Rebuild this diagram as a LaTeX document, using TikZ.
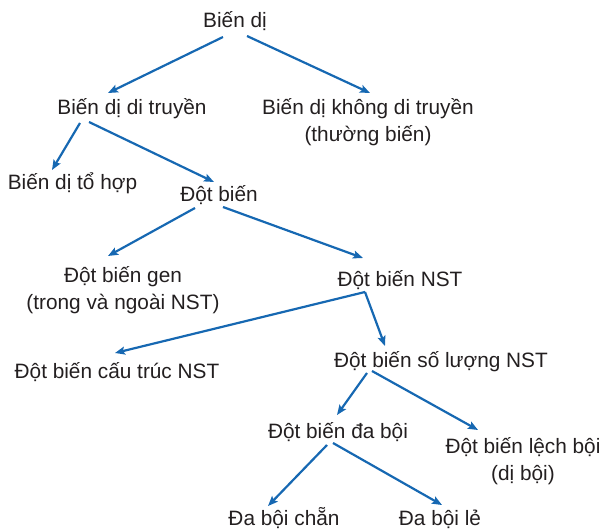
\documentclass[tikz,border=0pt]{standalone}
\usepackage{fontspec}
\setmainfont{Liberation Sans}
\usetikzlibrary{arrows.meta,calc}
\definecolor{linkblue}{RGB}{22,104,178}
\definecolor{ink}{RGB}{35,31,32}
\begin{document}
\begin{tikzpicture}[x=1pt,y=-1pt,
  term/.style={anchor=base, inner sep=0pt, align=center, text=ink,
    font=\fontsize{20.8}{27}\selectfont},
  link/.style={draw=linkblue, line width=2.2pt,
    -{Stealth[length=10pt,width=8pt,inset=2pt]}}]
\useasboundingbox (0,0) rectangle (603,532);

% terms of the classification tree (base = baseline of the last line)
\node[term] (root) at (235,28)  {Biến dị};
\node[term] (dt)   at (132,115) {Biến dị di truyền};
\node[term] (kdt)  at (368,142) {Biến dị không di truyền\\(thường biến)};
\node[term] (th)   at (72.5,190) {Biến dị tổ hợp};
\node[term] (db)   at (219,202) {Đột biến};
\node[term] (gen)  at (123,309) {Đột biến gen\\(trong và ngoài NST)};
\node[term] (nst)  at (400,287) {Đột biến NST};
\node[term] (ct)   at (117,378) {Đột biến cấu trúc NST};
\node[term] (sl)   at (441,367) {Đột biến số lượng NST};
\node[term] (dab)  at (338,438) {Đột biến đa bội};
\node[term] (lb)   at (523,480) {Đột biến lệch bội\\(dị bội)};
\node[term] (chan) at (284,525) {Đa bội chẵn};
\node[term] (le)   at (440,525) {Đa bội lẻ};

% connectors, offsets taken from each term's baseline point
\draw[link] ($(root.base)+(-12,9)$) -- ($(dt.base)+(-24,-22)$);
\draw[link] ($(root.base)+(12,8)$)  -- ($(kdt.base)+(2,-49)$);
\draw[link] ($(dt.base)+(-52,8)$)   -- ($(th.base)+(-20.5,-20)$);
\draw[link] ($(dt.base)+(-43,7)$)   -- ($(db.base)+(-5,-20)$);
\draw[link] ($(db.base)+(-24,6)$)   -- ($(gen.base)+(-15,-53)$);
\draw[link] ($(db.base)+(4,5)$)     -- ($(nst.base)+(-37,-29)$);
\draw[link] ($(nst.base)+(-35,5)$)  -- ($(ct.base)+(-2,-25)$);
\draw[link] ($(nst.base)+(-35,5)$)  -- ($(sl.base)+(-56,-21)$);
\draw[link] ($(sl.base)+(-74,6)$)   -- ($(dab.base)+(-1,-23)$);
\draw[link] ($(sl.base)+(-69,4)$)   -- ($(lb.base)+(-45,-50)$);
\draw[link] ($(dab.base)+(-11,7)$)  -- ($(chan.base)+(-16,-19)$);
\draw[link] ($(dab.base)+(-5,5)$)   -- ($(le.base)+(2,-20)$);
\end{tikzpicture}
\end{document}
